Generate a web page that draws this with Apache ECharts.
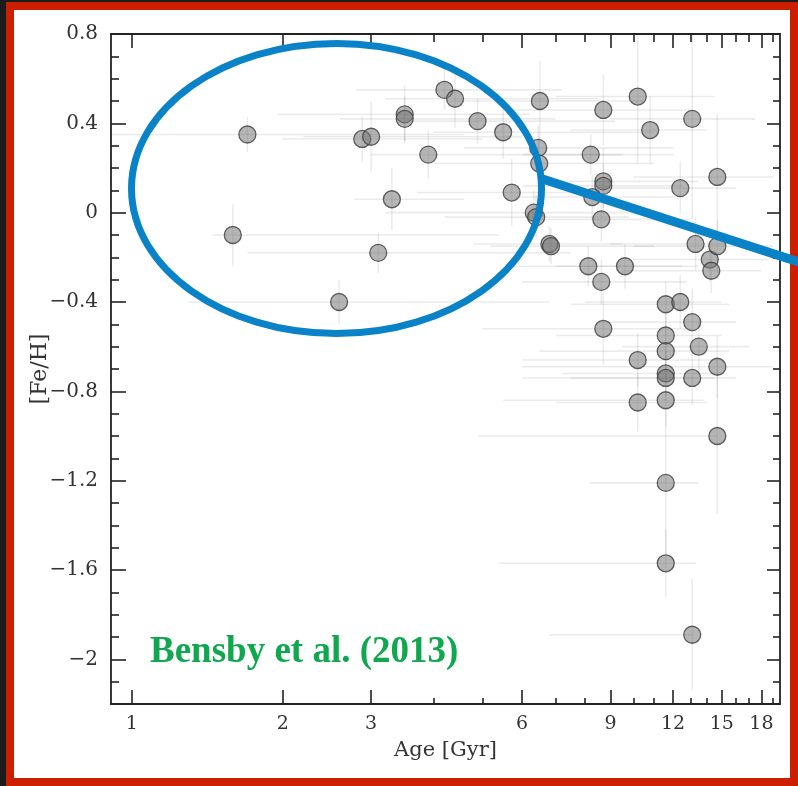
<!DOCTYPE html>
<html>
<head>
<meta charset="utf-8">
<script src="https://cdn.jsdelivr.net/npm/echarts@6/dist/echarts.min.js"></script>
<style>
  html, body { margin: 0; padding: 0; background: #1b1b1b; }
  #frame { position: absolute; left: 6px; top: 2px; width: 792px; height: 784px; background: #cc1f00; }
  #paper { position: absolute; left: 14px; top: 10px; width: 776px; height: 768px; background: #ffffff; }
  #chart { position: absolute; left: 0; top: 0; width: 798px; height: 786px; }
</style>
</head>
<body>
<div id="frame"></div>
<div id="paper"></div>
<div id="chart"></div>
<script>
// Stellar ages [Gyr] and metallicities [Fe/H]
const ages = [1.70, 1.59, 2.59, 2.88, 3.00, 3.10, 3.30, 3.50, 3.50, 3.90,
              4.20, 4.41, 4.89, 5.50, 5.72, 6.51, 6.46, 6.49, 6.33, 6.40,
              6.80, 6.85, 8.22, 8.71, 8.71, 8.71, 8.28, 8.63, 8.13, 8.63,
              8.71, 9.62, 10.2, 10.8, 10.2, 10.2, 11.6, 11.6, 11.6, 11.6,
              11.6, 11.6, 11.6, 11.6, 12.4, 12.4, 13.1, 13.1, 13.1, 13.1,
              13.3, 13.5, 14.2, 14.3, 14.7, 14.7, 14.7, 14.7];
const feh = [0.35, -0.10, -0.40, 0.33, 0.34, -0.18, 0.06, 0.44, 0.42, 0.26,
             0.55, 0.51, 0.41, 0.36, 0.09, 0.50, 0.29, 0.22, 0.00, -0.02,
             -0.14, -0.15, 0.26, 0.46, 0.14, 0.12, 0.07, -0.03, -0.24, -0.31,
             -0.52, -0.24, 0.52, 0.37, -0.66, -0.85, -0.41, -0.55, -0.62, -0.72,
             -0.74, -0.84, -1.21, -1.57, 0.11, -0.40, 0.42, -0.49, -0.74, -1.89,
             -0.14, -0.60, -0.21, -0.26, 0.16, -0.15, -0.69, -1.00];
// Age uncertainty range (lower / upper bound, Gyr)
const ageLow = [0.91, 1.45, 1.30, 2.0, 2.2, 1.70, 2.78, 1.95, 2.6, 3.0,
                2.8, 3.2, 3.6, 4.0, 3.7, 4.3, 4.6, 4.0, 3.2, 4.2,
                4.8, 5.2, 6.0, 5.5, 6.5, 6.0, 5.8, 6.2, 5.6, 6.0,
                5.0, 7.0, 7.0, 7.5, 6.0, 7.0, 7.5, 7.0, 6.5, 7.2,
                6.0, 5.5, 8.2, 5.4, 8.5, 8.0, 9.0, 8.5, 7.5, 6.8,
                9.0, 9.5, 10.0, 9.5, 10.0, 10.0, 6.0, 4.9];
const ageHigh = [4.6, 5.4, 6.8, 5.0, 6.0, 7.5, 4.6, 6.2, 7.0, 9.5,
                 7.2, 8.5, 9.2, 11.0, 8.0, 10.5, 12.0, 11.0, 11.5, 9.8,
                 9.5, 11.0, 12.0, 13.0, 13.5, 12.5, 12.0, 13.0, 12.5, 12.8,
                 13.0, 13.5, 14.5, 14.0, 15.0, 14.0, 15.5, 15.0, 15.5, 15.0,
                 14.5, 13.8, 13.5, 13.3, 16.0, 15.0, 17.5, 16.0, 16.0, 13.2,
                 17.0, 17.0, 18.5, 18.0, 19.0, 19.0, 19.0, 14.7];
// [Fe/H] uncertainty (symmetric)
const fehErr = [0.08, 0.14, 0.10, 0.10, 0.16, 0.09, 0.14, 0.13, 0.10, 0.11,
                0.09, 0.13, 0.10, 0.12, 0.15, 0.18, 0.10, 0.12, 0.10, 0.10,
                0.08, 0.08, 0.09, 0.16, 0.15, 0.10, 0.10, 0.10, 0.09, 0.10,
                0.16, 0.10, 0.30, 0.15, 0.12, 0.13, 0.10, 0.10, 0.12, 0.10,
                0.10, 0.12, 0.32, 0.15, 0.12, 0.12, 0.45, 0.15, 0.12, 0.25,
                0.12, 0.12, 0.10, 0.10, 0.28, 0.12, 0.14, 0.35];

// Axis ticks
const xMajor = [1, 2, 3, 6, 9, 12, 15, 18];
const xMinor = [4, 5, 7, 8, 10, 11, 13, 14, 16, 17, 19];
const yMajor = [0.8, 0.4, 0, -0.4, -0.8, -1.2, -1.6, -2.0];
const yMinor = [0.7, 0.6, 0.5, 0.3, 0.2, 0.1, -0.1, -0.2, -0.3, -0.5, -0.6, -0.7,
                -0.9, -1.0, -1.1, -1.3, -1.4, -1.5, -1.7, -1.8, -1.9, -2.1];
const ageMin = 0.909, ageMax = 19.6;
const fehMin = -2.2, fehMax = 0.8;

const lg = Math.log10;
const chart = echarts.init(document.getElementById('chart'), null, { renderer: 'canvas' });

const axisColor = '#222';
const labelFont = { fontFamily: 'DejaVu Serif', color: '#333' };

function xAxisDef(position, ticks, len, showLine, showLabel, extra) {
  return Object.assign({
    type: 'value', position: position, min: lg(ageMin), max: lg(ageMax),
    axisLine: { show: showLine, onZero: false, lineStyle: { color: axisColor, width: 1.8 } },
    axisTick: { show: true, inside: true, length: len, customValues: ticks.map(lg),
                lineStyle: { color: axisColor, width: 1.6 } },
    axisLabel: showLabel ? Object.assign({ show: true, customValues: ticks.map(lg), margin: 11, fontSize: 19,
                formatter: v => String(Math.round(Math.pow(10, v))) }, labelFont) : { show: false },
    splitLine: { show: false }
  }, extra || {});
}
function yAxisDef(position, ticks, len, showLine, showLabel, extra) {
  return Object.assign({
    type: 'value', position: position, min: fehMin, max: fehMax,
    axisLine: { show: showLine, onZero: false, lineStyle: { color: axisColor, width: 1.8 } },
    axisTick: { show: true, inside: true, length: len, customValues: ticks,
                lineStyle: { color: axisColor, width: 1.6 } },
    axisLabel: showLabel ? Object.assign({ show: true, customValues: ticks, margin: 13, fontSize: 20,
                formatter: v => String(Number(v.toFixed(1))).replace('-', '\u2212') }, labelFont) : { show: false },
    splitLine: { show: false }
  }, extra || {});
}

const points = ages.map((a, i) => [lg(a), feh[i]]);
const bars = ages.map((a, i) => [lg(a), feh[i], lg(ageLow[i]), lg(ageHigh[i]), fehErr[i]]);

chart.setOption({
  animation: false,
  grid: { left: 111, top: 34, right: 18, bottom: 82, containLabel: false, outerBoundsMode: 'none' },
  xAxis: [
    xAxisDef('bottom', xMajor, 14, true, true, {
      name: 'Age [Gyr]', nameLocation: 'middle', nameGap: 36, nameMoveOverlap: false,
      nameTextStyle: { fontFamily: 'DejaVu Serif', fontSize: 21, color: '#333' } }),
    xAxisDef('bottom', xMinor, 6, false, false),
    xAxisDef('top', xMajor, 14, true, false),
    xAxisDef('top', xMinor, 8, false, false)
  ],
  yAxis: [
    yAxisDef('left', yMajor, 15, true, true, {
      name: '[Fe/H]', nameLocation: 'middle', nameGap: 60, nameRotate: 90, nameMoveOverlap: false,
      nameTextStyle: { fontFamily: 'DejaVu Serif', fontSize: 22, color: '#333' } }),
    yAxisDef('left', yMinor, 8, false, false),
    yAxisDef('right', yMajor, 13, true, false),
    yAxisDef('right', yMinor, 7, false, false)
  ],
  series: [
    {
      type: 'custom',
      name: 'errors',
      xAxisIndex: 0, yAxisIndex: 0,
      clip: true,
      silent: true,
      data: bars,
      encode: { x: [0, 2, 3], y: 1 },
      renderItem: function (params, api) {
        const x = api.value(0), y = api.value(1);
        const lo = api.value(2), hi = api.value(3), e = api.value(4);
        const h0 = api.coord([lo, y]), h1 = api.coord([hi, y]);
        const v0 = api.coord([x, y - e]), v1 = api.coord([x, y + e]);
        const style = { stroke: 'rgba(0,0,0,0.08)', lineWidth: 1.6 };
        return {
          type: 'group',
          children: [
            { type: 'line', shape: { x1: h0[0], y1: h0[1], x2: h1[0], y2: h1[1] }, style: style },
            { type: 'line', shape: { x1: v0[0], y1: v0[1], x2: v1[0], y2: v1[1] }, style: style }
          ]
        };
      },
      z: 1
    },
    {
      type: 'scatter',
      name: 'stars',
      xAxisIndex: 0, yAxisIndex: 0,
      data: points,
      symbol: 'circle',
      symbolSize: 17,
      itemStyle: { color: 'rgba(115,115,115,0.66)', borderColor: '#3c3c3c', borderWidth: 1.3 },
      z: 3
    }
  ],
  graphic: {
    elements: [
      {
        type: 'ellipse',
        shape: { cx: 336.5, cy: 188.5, rx: 205, ry: 145 },
        style: { fill: 'none', stroke: '#0a82c8', lineWidth: 7 },
        z: 100
      },
      {
        type: 'line',
        shape: { x1: 541, y1: 178.5, x2: 800, y2: 262.5 },
        style: { stroke: '#0a82c8', lineWidth: 9 },
        z: 100
      },
      {
        type: 'text',
        x: 150, y: 652,
        style: {
          text: 'Bensby et al. (2013)',
          font: 'bold 37px "Liberation Serif"',
          fill: '#10a84e',
          align: 'left',
          verticalAlign: 'middle'
        },
        z: 100
      }
    ]
  }
});
</script>
</body>
</html>
